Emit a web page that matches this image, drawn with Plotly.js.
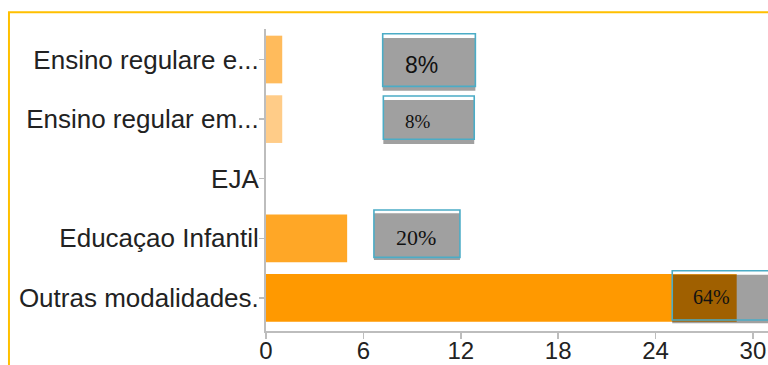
<!DOCTYPE html>
<html>
<head>
<meta charset="utf-8">
<script src="https://cdn.plot.ly/plotly-3.0.1.min.js"></script>
<style>
  html, body { margin: 0; padding: 0; background: #ffffff; }
  #chart { width: 768px; height: 365px; }
</style>
</head>
<body>
<div id="chart"></div>
<script>
// ---- data ----
const categories = ['Ensino regulare e...', 'Ensino regular em...', 'EJA', 'Educaçao Infantil', 'Outras modalidades.'];
const values = [1, 1, 0, 5, 29];
const pctLabels = ['8%', '8%', '', '20%', '64%'];
const xTicks = [0, 6, 12, 18, 24, 30];

// ---- styles ----
const barColors = ['#FFBB5C', '#FFCC88', '#FFB347', '#FFA726', '#FF9900'];
const boxFill = '#A0A0A0';
const boxBorder = '#4BACC6';
const frameColor = '#FFC000';

// label box placement (x in axis units, y in category units), one per labelled category
const boxes = [
  { cat: 0, x0: 7.19, x1: 12.90, y0: -0.433, y1: 0.450, gy0: -0.361, gy1: 0.523, tx: 9.61, ty: 0.10, font: 'Liberation Sans, Arial, sans-serif', size: 23 },
  { cat: 1, x0: 7.23, x1: 12.83, y0: 0.612, y1: 1.339, gy0: 0.680, gy1: 1.418, tx: 9.37, ty: 1.04, font: 'Liberation Serif, Times New Roman, serif', size: 19 },
  { cat: 3, x0: 6.65, x1: 11.95, y0: 2.525, y1: 3.319, gy0: 2.581, gy1: 3.364, tx: 9.25, ty: 2.98, font: 'Liberation Serif, Times New Roman, serif', size: 22 },
  { cat: 4, x0: 25.03, x1: 33.0, y0: 3.544, y1: 4.371, gy0: 3.611, gy1: 4.426, tx: 27.43, ty: 3.98, font: 'Liberation Serif, Times New Roman, serif', size: 20 }
];
const bargap = 0.2;

function hexToRgb(h) { h = h.replace('#',''); return [0,2,4].map(i => parseInt(h.substr(i,2),16)); }
function multiply(a, b) {
  const A = hexToRgb(a), B = hexToRgb(b);
  return 'rgb(' + A.map((v,i) => Math.round(v * B[i] / 255)).join(',') + ')';
}

const trace = {
  type: 'bar',
  orientation: 'h',
  y: categories,
  x: values,
  marker: { color: barColors, line: { width: 0 } },
  hoverinfo: 'none'
};

const shapes = [];
const annotations = [];
// gray fills
boxes.forEach(b => {
  shapes.push({ type: 'rect', xref: 'x', yref: 'y', x0: b.x0, x1: b.x1, y0: b.gy0, y1: b.gy1,
    fillcolor: boxFill, line: { width: 0 }, layer: 'above' });
});
// multiply overlap where a label box lies over its bar
boxes.forEach(b => {
  const v = values[b.cat];
  const half = (1 - bargap) / 2;
  const ox1 = Math.min(v, b.x1);
  if (ox1 > b.x0) {
    shapes.push({ type: 'rect', xref: 'x', yref: 'y', x0: b.x0, x1: ox1,
      y0: Math.max(b.cat - half, b.gy0), y1: Math.min(b.cat + half, b.gy1),
      fillcolor: multiply(barColors[b.cat], boxFill), line: { width: 0 }, layer: 'above' });
  }
});
// borders + text
boxes.forEach(b => {
  shapes.push({ type: 'rect', xref: 'x', yref: 'y', x0: b.x0, x1: b.x1, y0: b.y0, y1: b.y1,
    fillcolor: 'rgba(0,0,0,0)', line: { color: boxBorder, width: 1.6 }, layer: 'above' });
  annotations.push({ xref: 'x', yref: 'y', x: b.tx, y: b.ty, text: pctLabels[b.cat], showarrow: false,
    font: { family: b.font, size: b.size, color: '#111111' }, xanchor: 'center', yanchor: 'middle' });
});
// outer yellow frame (top and left edges visible)
shapes.push({ type: 'rect', xref: 'paper', yref: 'paper', x0: -0.512, x1: 1.3, y0: -0.4, y1: 1.0555,
  fillcolor: 'rgba(0,0,0,0)', line: { color: frameColor, width: 2 }, layer: 'above' });

const layout = {
  width: 768,
  height: 365,
  margin: { l: 266, r: 0, t: 29, b: 34, pad: 0 },
  paper_bgcolor: '#ffffff',
  plot_bgcolor: '#ffffff',
  showlegend: false,
  bargap: bargap,
  font: { family: 'Liberation Sans, Arial, sans-serif', size: 26, color: '#222222' },
  xaxis: {
    range: [0, 30.93],
    tickmode: 'array',
    tickvals: xTicks,
    ticktext: xTicks.map(String),
    showgrid: false,
    zeroline: false,
    showline: true,
    linecolor: '#BDBDBD',
    linewidth: 2,
    ticks: 'outside',
    ticklen: 6,
    tickwidth: 1.5,
    tickcolor: '#BDBDBD',
    ticklabelstandoff: -9,
    tickfont: { size: 24, color: '#222222' },
    fixedrange: true
  },
  yaxis: {
    type: 'category',
    categoryorder: 'array',
    categoryarray: categories,
    range: [4.555, -0.512],
    showgrid: false,
    zeroline: false,
    showline: true,
    linecolor: '#BDBDBD',
    linewidth: 2,
    ticks: 'outside',
    ticklen: 5,
    tickwidth: 1.5,
    tickcolor: '#BDBDBD',
    ticklabelstandoff: -5,
    tickfont: { size: 26, color: '#222222' },
    fixedrange: true
  },
  shapes: shapes,
  annotations: annotations
};

Plotly.newPlot('chart', [trace], layout, { displayModeBar: false, staticPlot: true });
</script>
</body>
</html>
